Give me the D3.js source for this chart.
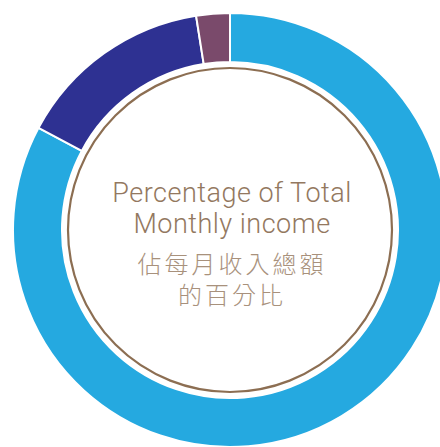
<html>
<head>
    <meta charset="utf-8">
    <title>Monthly income</title>
    <script src='https://d3js.org/d3.v7.min.js'></script>
    <style>
        body { margin: 0; background: #fff; overflow: hidden; }
        path { stroke: #fff; stroke-width: 2; }
    </style>
</head>
<body>
    <svg id="donut"></svg>
    <script>
        // share of total monthly income (clockwise from 12 o'clock)
        var categories = ["A", "B", "C"];
        var values = [82.8, 14.7, 2.5];
        var colors = ["#25a9e0", "#2e3192", "#7a4a6b"];
        var titleEn = ["Percentage of Total", "Monthly income"];
        var titleZh = ["佔每月收入總額", "的百分比"];

        var width = 440, height = 447;
        var cx = 230, cy = 230, outer = 217, inner = 168, ring = 162;

        var svg = d3.select("#donut")
            .attr("width", width)
            .attr("height", height);

        var g = svg.append("g")
            .attr("transform", "translate(" + cx + "," + cy + ")");

        var pie = d3.pie().sort(null).value(function (d) { return d; });
        var arc = d3.arc().innerRadius(inner).outerRadius(outer);
        var color = d3.scaleOrdinal().domain(categories).range(colors);

        g.selectAll("path")
            .data(pie(values))
            .enter()
            .append("path")
            .attr("d", arc)
            .attr("fill", function (d, i) { return color(categories[i]); });

        g.append("circle")
            .attr("r", ring)
            .attr("fill", "none")
            .attr("stroke", "#8c6e52")
            .attr("stroke-width", 2.2);

        g.selectAll("text.en")
            .data(titleEn)
            .enter()
            .append("text")
            .attr("class", "en")
            .attr("x", 2)
            .attr("y", function (d, i) { return -28 + i * 31; })
            .attr("text-anchor", "middle")
            .style("font-family", "Roboto, 'Liberation Sans', sans-serif")
            .style("font-weight", 300)
            .style("font-size", "27px")
            .style("letter-spacing", "0.5px")
            .style("fill", "#937860")
            .text(function (d) { return d; });

        g.selectAll("text.zh")
            .data(titleZh)
            .enter()
            .append("text")
            .attr("class", "zh")
            .attr("x", 2)
            .attr("y", function (d, i) { return 43 + i * 31; })
            .attr("text-anchor", "middle")
            .style("font-family", "'Noto Sans CJK TC', sans-serif")
            .style("font-weight", 300)
            .style("font-size", "24px")
            .style("letter-spacing", "3px")
            .style("fill", "#a8917c")
            .text(function (d) { return d; });
    </script>
</body>
</html>
